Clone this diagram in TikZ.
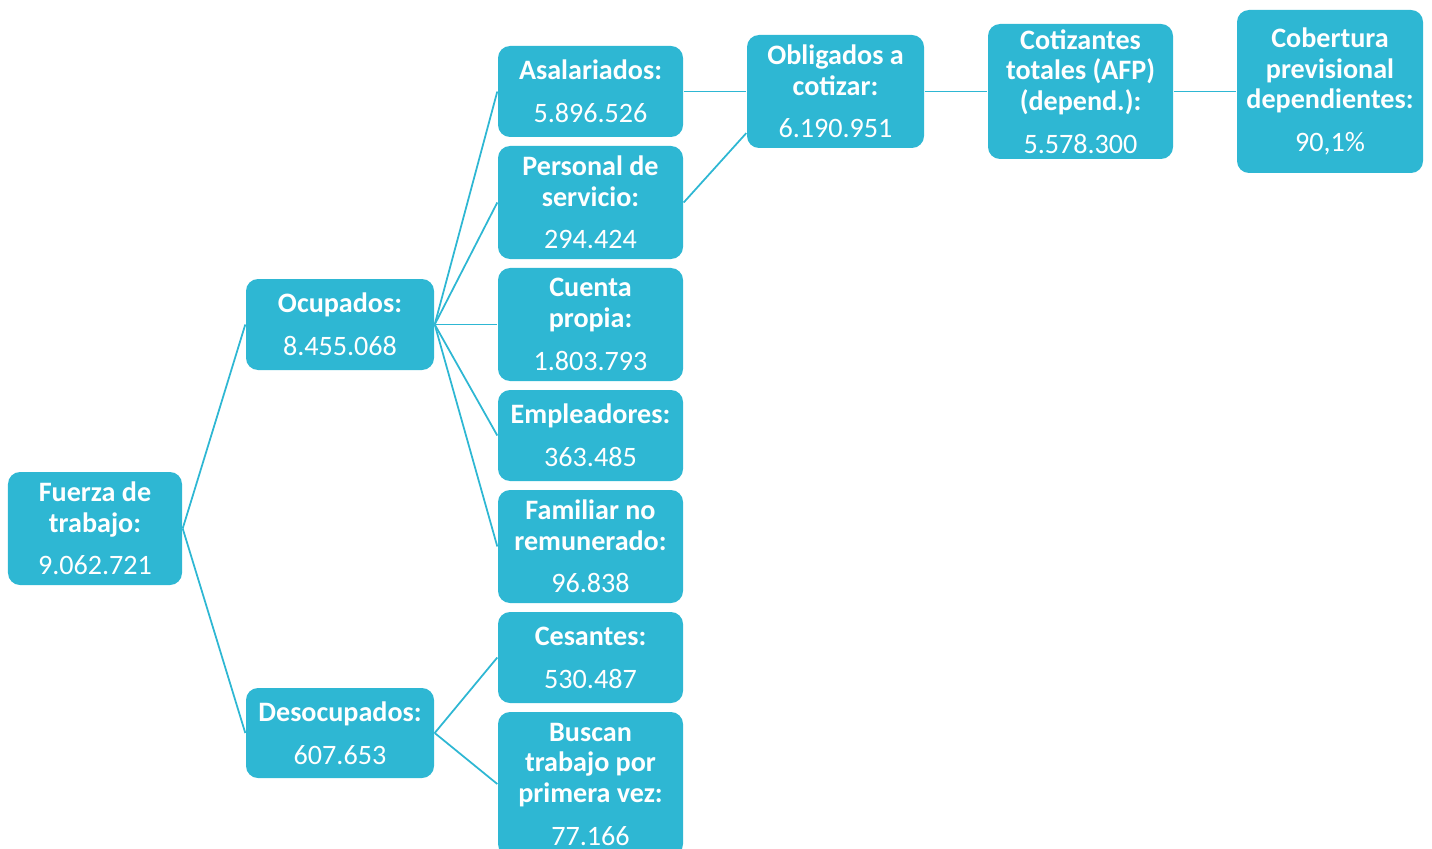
\documentclass[tikz,border=0pt]{standalone}
\usepackage{fontspec}
\setmainfont{Carlito}
\definecolor{turquesa}{RGB}{46,183,211}

\begin{document}
\begin{tikzpicture}
\tikzset{boite/.style={fill=turquesa, rounded corners=0.12cm, text=white, align=center, inner sep=0pt, minimum width=1.85cm, font=\fontsize{8}{8.7}\selectfont},
lien/.style={draw=turquesa, line width=0.5pt}}
\useasboundingbox (0,0) rectangle (14.32,-8.49);
\node[boite, minimum width=1.74cm, minimum height=1.13cm] (FT) at (0.95,-5.285) {\textbf{Fuerza de}\\\textbf{trabajo:}\\[3.5pt]9.062.721};
\node[boite, minimum width=1.88cm, minimum height=0.91cm] (OC) at (3.40,-3.245) {\textbf{Ocupados:}\\[3.5pt]8.455.068};
\node[boite, minimum width=1.88cm, minimum height=0.90cm] (DE) at (3.40,-7.33) {\textbf{Desocupados:}\\[3.5pt]607.653};
\node[boite, minimum height=0.91cm] (AS) at (5.905,-0.915) {\textbf{Asalariados:}\\[3.5pt]5.896.526};
\node[boite, minimum height=1.13cm] (PS) at (5.905,-2.025) {\textbf{Personal de}\\\textbf{servicio:}\\[3.5pt]294.424};
\node[boite, minimum height=1.13cm] (CP) at (5.905,-3.245) {\textbf{Cuenta}\\\textbf{propia:}\\[3.5pt]1.803.793};
\node[boite, minimum height=0.91cm] (EM) at (5.905,-4.355) {\textbf{Empleadores:}\\[3.5pt]363.485};
\node[boite, minimum height=1.13cm] (FN) at (5.905,-5.465) {\textbf{Familiar no}\\\textbf{remunerado:}\\[3.5pt]96.838};
\node[boite, minimum height=0.91cm] (CE) at (5.905,-6.575) {\textbf{Cesantes:}\\[3.5pt]530.487};
\node[boite, minimum height=1.44cm] (BT) at (5.905,-7.84) {\textbf{Buscan}\\\textbf{trabajo por}\\\textbf{primera vez:}\\[3.5pt]77.166};
\node[boite, minimum width=1.77cm, minimum height=1.13cm] (OB) at (8.355,-0.915) {\textbf{Obligados a}\\\textbf{cotizar:}\\[3.5pt]6.190.951};
\node[boite, minimum height=1.35cm] (CT) at (10.805,-0.915) {\textbf{Cotizantes}\\\textbf{totales (AFP)}\\\textbf{(depend.):}\\[3.5pt]5.578.300};
\node[boite, minimum width=1.86cm, minimum height=1.63cm] (CB) at (13.30,-0.915) {\textbf{Cobertura}\\\textbf{previsional}\\\textbf{dependientes:}\\[3.5pt]90,1\%};
\draw[lien] (FT.east) -- (OC.west);
\draw[lien] (FT.east) -- (DE.west);
\draw[lien] (OC.east) -- (AS.west);
\draw[lien] (OC.east) -- (PS.west);
\draw[lien] (OC.east) -- (CP.west);
\draw[lien] (OC.east) -- (EM.west);
\draw[lien] (OC.east) -- (FN.west);
\draw[lien] (DE.east) -- (CE.west);
\draw[lien] (DE.east) -- (BT.west);
\draw[lien] (AS.east) -- (OB.west);
\draw[lien] (PS.east) -- (OB.205);
\draw[lien] (OB.east) -- (CT.west);
\draw[lien] (CT.east) -- (CB.west);
\end{tikzpicture}
\end{document}
